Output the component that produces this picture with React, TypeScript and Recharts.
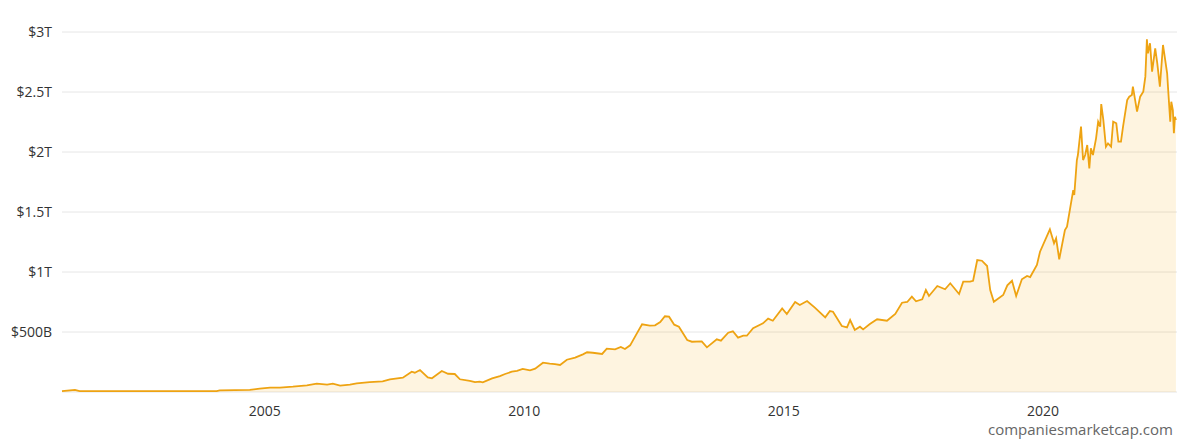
import React from 'react';
import { AreaChart, Area, XAxis, YAxis, CartesianGrid } from 'recharts';

// dates as decimal years, market cap in billions USD
const dates = [
  2001.09, 2001.34, 2001.43, 2004.07, 2004.13, 2004.71, 2004.9, 2005.1, 2005.29, 2005.54,
  2005.81, 2006.0, 2006.2, 2006.31, 2006.45, 2006.64, 2006.77, 2007.02, 2007.27, 2007.41,
  2007.66, 2007.83, 2007.89, 2007.99, 2008.14, 2008.22, 2008.41, 2008.53, 2008.66, 2008.76,
  2008.95, 2009.05, 2009.14, 2009.2, 2009.38, 2009.53, 2009.63, 2009.76, 2009.86, 2009.97,
  2010.11, 2010.21, 2010.36, 2010.49, 2010.59, 2010.69, 2010.82, 2010.98, 2011.13, 2011.21,
  2011.32, 2011.5, 2011.59, 2011.75, 2011.86, 2011.94, 2012.04, 2012.17, 2012.27, 2012.42,
  2012.52, 2012.62, 2012.71, 2012.79, 2012.89, 2012.98, 2013.14, 2013.23, 2013.42, 2013.52,
  2013.71, 2013.79, 2013.93, 2014.02, 2014.12, 2014.22, 2014.29, 2014.41, 2014.6, 2014.7,
  2014.79, 2014.97, 2015.06, 2015.22, 2015.31, 2015.45, 2015.6, 2015.8, 2015.89, 2015.95,
  2016.12, 2016.22, 2016.28, 2016.37, 2016.47, 2016.53, 2016.66, 2016.8, 2016.99, 2017.15,
  2017.28, 2017.38, 2017.47, 2017.55, 2017.67, 2017.74, 2017.8, 2017.96, 2018.11, 2018.21,
  2018.38, 2018.46, 2018.59, 2018.65, 2018.73, 2018.82, 2018.92, 2018.98, 2019.05, 2019.23,
  2019.31, 2019.4, 2019.48, 2019.59, 2019.69, 2019.75, 2019.88, 2019.94, 2020.13, 2020.21,
  2020.25, 2020.31, 2020.42, 2020.46, 2020.58, 2020.6, 2020.65, 2020.67, 2020.73, 2020.77,
  2020.81, 2020.85, 2020.89, 2020.92, 2020.96, 2021.02, 2021.06, 2021.1, 2021.12, 2021.16,
  2021.21, 2021.25, 2021.31, 2021.35, 2021.41, 2021.45, 2021.5, 2021.54, 2021.62, 2021.66,
  2021.71, 2021.73, 2021.81, 2021.87, 2021.93, 2021.97, 2022.0, 2022.02, 2022.06, 2022.1,
  2022.16, 2022.2, 2022.25, 2022.31, 2022.39, 2022.41, 2022.45, 2022.47, 2022.5, 2022.52,
  2022.54, 2022.56,
];

const marketCap = [
  8, 17, 8, 8, 14, 17, 28, 36, 36, 44,
  56, 69, 61, 69, 53, 61, 72, 83, 89, 106,
  119, 169, 161, 183, 122, 114, 175, 152, 150, 106,
  92, 83, 86, 81, 114, 133, 150, 169, 177, 192,
  181, 194, 244, 236, 233, 225, 269, 286, 314, 331,
  327, 317, 361, 356, 375, 358, 389, 489, 564, 553,
  556, 583, 631, 628, 561, 544, 433, 419, 422, 372,
  439, 428, 494, 506, 453, 469, 469, 531, 572, 611,
  594, 697, 650, 750, 725, 758, 703, 622, 675, 669,
  550, 539, 600, 517, 544, 522, 567, 606, 594, 650,
  744, 750, 794, 756, 772, 850, 800, 883, 856, 906,
  817, 919, 919, 927, 1100, 1094, 1050, 850, 752, 808,
  889, 927, 800, 939, 967, 958, 1058, 1169, 1356, 1239,
  1281, 1106, 1350, 1378, 1683, 1642, 1933, 1975, 2211, 1933,
  1975, 2058, 1864, 2031, 1975, 2114, 2253, 2211, 2400, 2267,
  2044, 2072, 2044, 2253, 2239, 2086, 2086, 2211, 2433, 2461,
  2475, 2544, 2336, 2461, 2503, 2628, 2939, 2822, 2906, 2669,
  2864, 2739, 2544, 2892, 2656, 2517, 2253, 2419, 2350, 2156,
  2294, 2267,
];

const yearTicks = [2005, 2010, 2015, 2020];
const capTicks = [500, 1000, 1500, 2000, 2500, 3000];

const data = dates.map((date, i) => ({ date, cap: marketCap[i] }));

const formatCap = (v: number) => (v >= 1000 ? `$${v / 1000}T` : `$${v}B`);

export default function App() {
  return (
    <div style={{ position: 'absolute', left: 0, top: 0, width: 1200, height: 440, background: '#fff', overflow: 'hidden', fontFamily: '"Open Sans", sans-serif' }}>
      <AreaChart width={1200} height={440} data={data} margin={{ top: 32, right: 23, bottom: 18, left: 0 }}>
        <CartesianGrid vertical={false} stroke="#e6e6e6" />
        <XAxis
          dataKey="date"
          type="number"
          domain={[2001.09, 2022.58]}
          ticks={yearTicks}
          axisLine={false}
          tickLine={false}
          tickMargin={8}
          height={30}
          tick={{ fill: '#333', fontSize: 14 }}
        />
        <YAxis
          domain={[0, 3000]}
          ticks={capTicks}
          tickFormatter={formatCap}
          axisLine={false}
          tickLine={false}
          tickMargin={4}
          width={62}
          tick={{ fill: '#333', fontSize: 14 }}
        />
        <Area
          type="linear"
          dataKey="cap"
          stroke="#eea312"
          strokeWidth={1.8}
          fill="#f8a100"
          fillOpacity={0.12}
          isAnimationActive={false}
          dot={false}
          activeDot={false}
        />
      </AreaChart>
      <div style={{ position: 'absolute', left: 988, top: 419, fontSize: 15, lineHeight: '20px', color: '#666' }}>
        companiesmarketcap.com
      </div>
    </div>
  );
}
